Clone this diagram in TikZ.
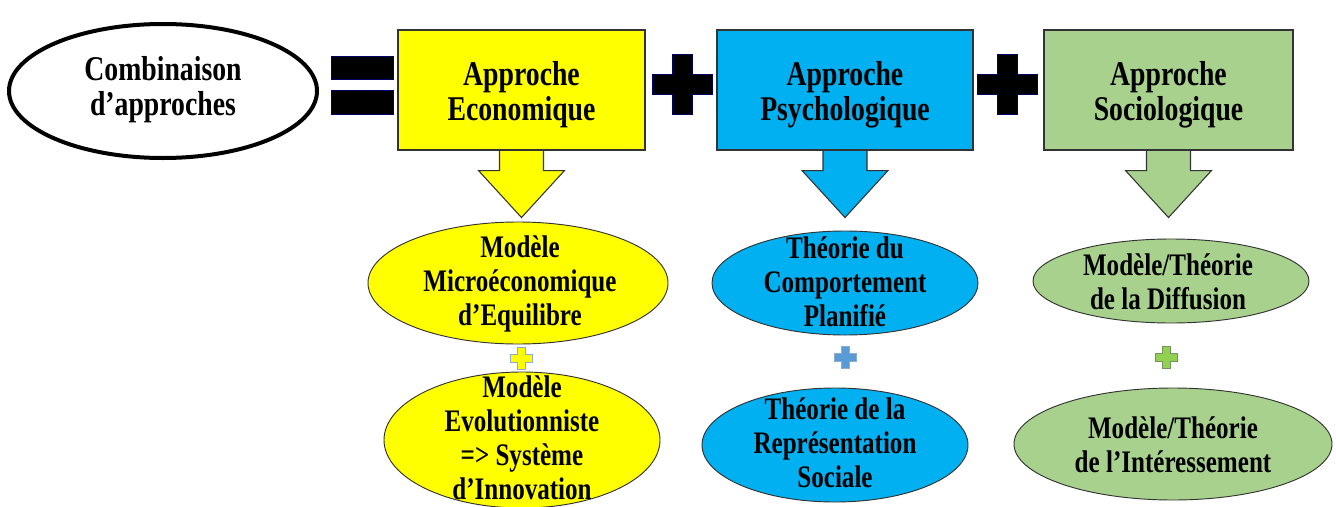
\documentclass[tikz,border=0pt]{standalone}
\usepackage{fontspec}
\setmainfont[FakeStretch=0.8]{Liberation Serif}
\usetikzlibrary{shapes.geometric,calc}
\definecolor{cyel}{HTML}{FFFF00}
\definecolor{cblue}{HTML}{00B0F0}
\definecolor{cgreen}{HTML}{A9D18E}
\definecolor{cedge}{HTML}{333333}
\definecolor{plusblue}{HTML}{5B9BD5}
\definecolor{plusgreen}{HTML}{92D050}
\definecolor{plusedge}{HTML}{8EAADB}
\newcommand\crossshape[5]{%
  \filldraw[#5] (#1-#4,#2-#3) -- (#1+#4,#2-#3) -- (#1+#4,#2-#4) -- (#1+#3,#2-#4) -- (#1+#3,#2+#4) -- (#1+#4,#2+#4) -- (#1+#4,#2+#3) -- (#1-#4,#2+#3) -- (#1-#4,#2+#4) -- (#1-#3,#2+#4) -- (#1-#3,#2-#4) -- (#1-#4,#2-#4) -- cycle;}
\begin{document}
\begin{tikzpicture}[x=0.75pt,y=-0.75pt,
  box/.style={draw=cedge, line width=0.8pt, minimum height=120*0.75pt, inner sep=0pt},
  ell/.style={ellipse, draw=cedge, line width=0.7pt, inner sep=0pt},
  toptxt/.style={font=\fontsize{26}{26.3}\selectfont\bfseries, align=center, inner sep=0pt},
  bottxt/.style={font=\fontsize{23.5}{25.5}\selectfont\bfseries, align=center, inner sep=0pt},
  blk/.style={fill=black, draw=black!60!blue, line width=0.6pt},
  arrowbody/.style={draw=cedge, line width=0.8pt, line join=miter},
]
\useasboundingbox (0,0) rectangle (1336,507);

% left ellipse
\node[ellipse, draw=black, line width=3pt, fill=white, minimum width=308*0.75pt, minimum height=134*0.75pt, inner sep=0pt] (comb) at (163,91) {};
\node[toptxt] (combt) at (163,90) {Combinaison\\d’approches};

% equals sign
\filldraw[blk] (331,56) rectangle (393,79);
\filldraw[blk] (331,90) rectangle (393,114);

% top boxes
\node[box, fill=cyel, minimum width=247*0.75pt] (b1) at (521.5,90) {};
\node[box, fill=cblue, minimum width=256*0.75pt] (b2) at (845,90) {};
\node[box, fill=cgreen, minimum width=249*0.75pt] (b3) at (1168.5,90) {};
\node[toptxt] (b1t) at ($(b1)+(0,5)$) {Approche\\Economique};
\node[toptxt] (b2t) at ($(b2)+(0,5)$) {Approche\\Psychologique};
\node[toptxt] (b3t) at ($(b3)+(0,5)$) {Approche\\Sociologique};

% block arrows
\foreach \b/\c in {b1/cyel,b2/cblue,b3/cgreen}{
  \fill[\c, shift={(\b.south)}] (-22,0.6) -- (-22,20) -- (-43,20) -- (0,67) -- (43,20) -- (22,20) -- (22,0.6) -- cycle;
  \draw[arrowbody, shift={(\b.south)}] (-22,0.6) -- (-22,20) -- (-43,20) -- (0,67) -- (43,20) -- (22,20) -- (22,0.6);
}

% big plus signs
\crossshape{682}{84}{30}{10}{blk}
\crossshape{1007}{84}{30}{10}{blk}

% bottom ellipses
\node[ell, fill=cyel, minimum width=300*0.75pt, minimum height=122*0.75pt] (y1) at (518,283) {};
\node[ell, fill=cyel, minimum width=276*0.75pt, minimum height=136*0.75pt] (y2) at (522,440) {};
\node[ell, fill=cblue, minimum width=266*0.75pt, minimum height=104*0.75pt] (u1) at (845,283) {};
\node[ell, fill=cblue, minimum width=266*0.75pt, minimum height=114*0.75pt] (u2) at (835,445) {};
\node[ell, fill=cgreen, minimum width=276*0.75pt, minimum height=84*0.75pt] (g1) at (1171,281) {};
\node[ell, fill=cgreen, minimum width=318*0.75pt, minimum height=112*0.75pt] (g2) at (1173,444) {};

\node[bottxt] (y1t) at (520,284) {Modèle\\Microéconomique\\d’Equilibre};
\node[bottxt] (y2t) at (522,438) {Modèle\\Evolutionniste\\=> Système\\d’Innovation};
\node[bottxt] (u1t) at (845,282) {Théorie du\\Comportement\\Planifié};
\node[bottxt] (u2t) at (835,443) {Théorie de la\\Représentation\\Sociale};
\node[bottxt] (g1t) at (1168,282) {Modèle/Théorie\\de la Diffusion};
\node[bottxt] (g2t) at (1173,445) {Modèle/Théorie\\de l’Intéressement};

% small plus signs
\crossshape{521}{358}{11}{4}{fill=cyel, draw=plusedge, line width=0.6pt}
\crossshape{845}{357}{11}{4}{fill=plusblue, draw=plusedge, line width=0.6pt}
\crossshape{1166}{357}{11}{4}{fill=plusgreen, draw=cgreen!70!black, line width=0.6pt}
\end{tikzpicture}
\end{document}
